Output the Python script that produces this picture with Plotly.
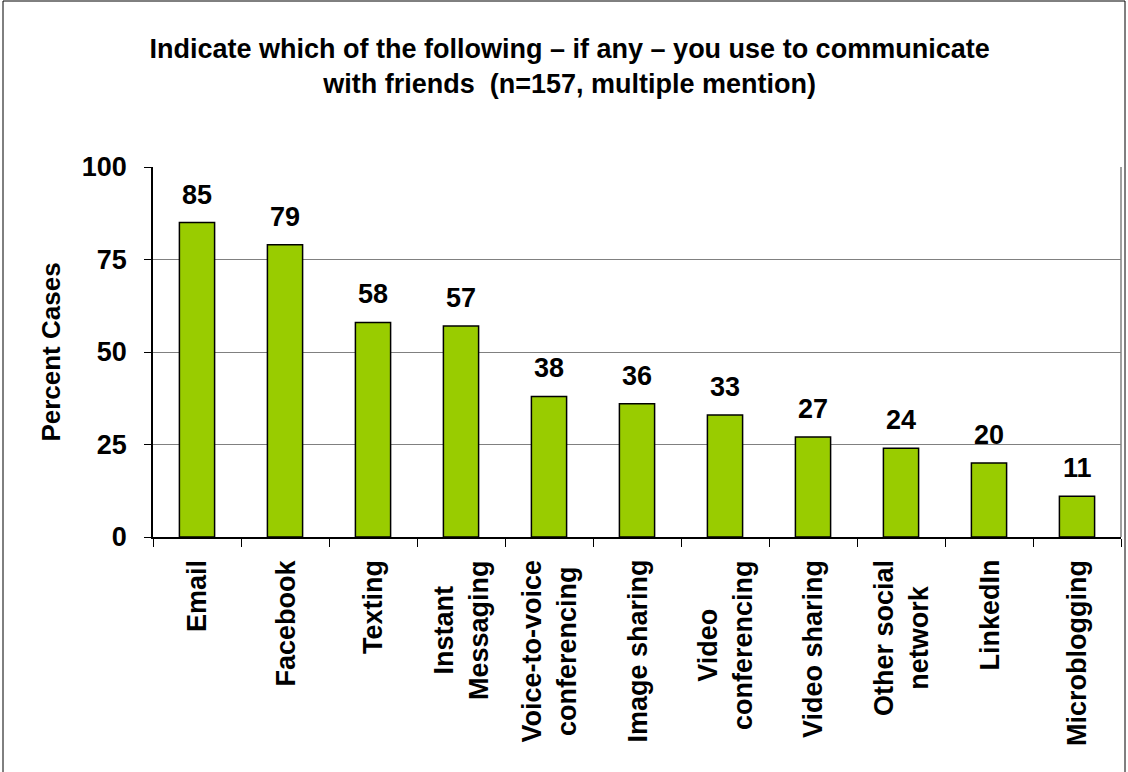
import plotly.graph_objects as go

categories = ["Email", "Facebook", "Texting", "Instant Messaging", "Voice-to-voice conferencing",
              "Image sharing", "Video conferencing", "Video sharing", "Other social network",
              "LinkedIn", "Microblogging"]
tick_labels = ["Email", "Facebook", "Texting", "Instant<br>Messaging", "Voice-to-voice<br>conferencing",
               "Image sharing", "Video<br>conferencing", "Video sharing", "Other social<br>network",
               "LinkedIn", "Microblogging"]
values = [85, 79, 58, 57, 38, 36, 33, 27, 24, 20, 11]
y_ticks = [0, 25, 50, 75, 100]

FONT = "Liberation Sans, Arial, sans-serif"
W, H = 1128, 772
L, R, T, B = 153, 7, 167, 235

fig = go.Figure()
fig.add_trace(go.Bar(
    x=categories, y=values,
    marker=dict(color="#99CC00", line=dict(color="#000000", width=1.5)),
    hoverinfo="x+y",
))

annotations = []
for c, v in zip(categories, values):
    annotations.append(dict(x=c, y=v, xref="x", yref="y", text=f"<b>{v}</b>",
                            showarrow=False, yanchor="bottom", yshift=11,
                            font=dict(family=FONT, size=27, color="#000")))
for c, lab in zip(categories, tick_labels):
    annotations.append(dict(x=c, y=0, xref="x", yref="paper", text=f"<b>{lab}</b>",
                            showarrow=False, yanchor="top", xanchor="center", yshift=-21,
                            textangle=-90, align="center",
                            font=dict(family=FONT, size=27, color="#000")))

pw = W - L - R
ph = H - T - B
fig.update_layout(
    width=W, height=H,
    margin=dict(l=L, r=R, t=T, b=B),
    paper_bgcolor="white", plot_bgcolor="white",
    showlegend=False,
    bargap=0.6,
    title=dict(text="<b>Indicate which of the following – if any – you use to communicate<br>with friends  (n=157, multiple mention)</b>",
               x=0.505, xanchor="center", y=1 - 58 / H, yanchor="middle",
               font=dict(family=FONT, size=27, color="#000")),
    annotations=annotations,
    shapes=[dict(type="rect", xref="paper", yref="paper",
                 x0=-(L - 3) / pw, x1=1 + (R - 3) / pw, y0=-(B + 5) / ph, y1=1 + (T - 1) / ph,
                 line=dict(color="#000", width=1), fillcolor="rgba(0,0,0,0)", layer="below"),
            dict(type="line", xref="paper", yref="paper", x0=1, x1=1, y0=0, y1=1,
                 line=dict(color="#808080", width=1.5))],
)
fig.update_xaxes(
    showticklabels=False, showline=True, linecolor="#000", linewidth=1.5,
    ticks="outside", ticklen=8, tickcolor="#000", tickwidth=1, tickson="boundaries",
    showgrid=False, fixedrange=True,
)
fig.update_yaxes(
    range=[0, 100], tickvals=y_ticks, ticktext=[f"<b>{t}</b>" for t in y_ticks],
    tickfont=dict(family=FONT, size=27, color="#000"),
    showline=True, linecolor="#000", linewidth=1.5,
    ticks="outside", ticklen=7, tickcolor="#000", tickwidth=1,
    ticklabelstandoff=12,
    showgrid=True, gridcolor="#808080", gridwidth=1.2, zeroline=False,
    title=dict(text="<b>Percent Cases</b>", font=dict(family=FONT, size=26, color="#000"), standoff=14),
    fixedrange=True,
)
fig.write_html("out.html")
